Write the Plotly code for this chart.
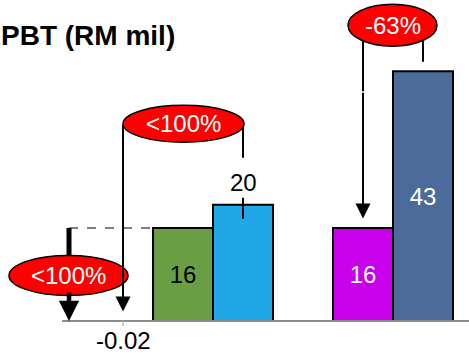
import plotly.graph_objects as go

# PBT (RM mil) per period: first group of three quarters, second group of two
group_a_values = [-0.02, 16, 20]
group_b_values = [16, 43]
change_labels = ["<100%", "<100%", "-63%"]
chart_title = "PBT (RM mil)"

bar_colors = ["#FFFFFF", "#6A9E44", "#1FA7E8", "#C800EC", "#4C6B9B"]
label_colors = ["black", "black", "black", "white", "white"]

values = group_a_values + group_b_values
# one empty slot separates the two groups
slots = list(range(len(group_a_values))) + [
    len(group_a_values) + 1 + i for i in range(len(group_b_values))
]

W, H = 469, 354
X_RANGE = [-2.05, 5.7667]
Y_RANGE = [-5.68, 55.25]
PX_X = W / (X_RANGE[1] - X_RANGE[0])
PX_Y = H / (Y_RANGE[1] - Y_RANGE[0])


def dx(px):
    return px / PX_X


def dy(px):
    return px / PX_Y


FONT = "Arial, 'Liberation Sans', sans-serif"
LINE = "black"
RED = "#FF0000"

inside = [abs(v) > 1 and i != 2 for i, v in enumerate(values)]
fig = go.Figure(
    go.Bar(
        x=slots,
        y=values,
        width=1.0,
        marker=dict(
            color=bar_colors,
            line=dict(color="black", width=[0 if abs(v) < 1 else 2 for v in values]),
        ),
        text=[f"{v:g}" for v in values],
        textposition=["inside" if f else "none" for f in inside],
        insidetextanchor="middle",
        textangle=0,
        insidetextfont=dict(family=FONT, size=24, color=label_colors),
        hoverinfo="skip",
    )
)

v_prev, v_green, v_blue, v_mag, v_dark = values
s_prev, s_green, s_blue, s_mag, s_dark = slots
gap = dy(9.5)  # arrow tips stop just above their target

shapes = []
annotations = []

# baseline and the single tick under the first bar
x_axis_start = s_prev - dx(61)
shapes.append(dict(type="line", xref="x", yref="y", x0=x_axis_start, x1=X_RANGE[1],
                   y0=0, y1=0, line=dict(color="#8C8C8C", width=2)))
shapes.append(dict(type="line", xref="x", yref="y", x0=s_prev, x1=s_prev,
                   y0=0, y1=-dy(5), line=dict(color="#BBBBBB", width=1.5)))

# left: dashed level of the earlier 16 and a bold drop arrow
x_drop = s_prev - dx(54)
shapes.append(dict(type="line", xref="x", yref="y", x0=x_drop, x1=s_green - 0.5,
                   y0=v_green, y1=v_green, line=dict(color="#555555", width=1.5, dash="dash")))
shapes.append(dict(type="line", xref="x", yref="y", x0=x_drop, x1=x_drop,
                   y0=v_green, y1=dy(30), line=dict(color=LINE, width=5)))
annotations.append(dict(x=x_drop, y=0, ax=x_drop, ay=dy(30), xref="x", yref="y",
                        axref="x", ayref="y", text="", showarrow=True, arrowhead=2,
                        arrowsize=0.9, arrowwidth=4.5, arrowcolor=LINE, standoff=0))

# middle: 20 -> -0.02
mid_cy = v_blue + dy(81)
shapes.append(dict(type="line", xref="x", yref="y", x0=s_blue, x1=s_blue,
                   y0=mid_cy, y1=v_blue + dy(47), line=dict(color=LINE, width=2)))
shapes.append(dict(type="line", xref="x", yref="y", x0=s_blue, x1=s_blue,
                   y0=v_blue + dy(7), y1=v_blue - dy(14), line=dict(color=LINE, width=2)))
annotations.append(dict(x=s_prev, y=max(v_prev, 0) + gap, ax=s_prev, ay=mid_cy,
                        xref="x", yref="y", axref="x", ayref="y", text="",
                        showarrow=True, arrowhead=2, arrowsize=1.5, arrowwidth=2,
                        arrowcolor=LINE, standoff=0))

# right: 43 -> 16
right_cy = v_dark + dy(46)
shapes.append(dict(type="line", xref="x", yref="y", x0=s_dark, x1=s_dark,
                   y0=right_cy, y1=v_dark + gap, line=dict(color=LINE, width=2)))
shapes.append(dict(type="line", xref="x", yref="y", x0=s_mag, x1=s_mag,
                   y0=right_cy, y1=v_dark - dy(20), line=dict(color=LINE, width=2)))
annotations.append(dict(x=s_mag, y=v_mag + gap, ax=s_mag, ay=v_dark - dy(20),
                        xref="x", yref="y", axref="x", ayref="y", text="",
                        showarrow=True, arrowhead=2, arrowsize=1.5, arrowwidth=2,
                        arrowcolor=LINE, standoff=0))

# red ellipses carrying the change labels
ellipses = [
    (x_drop - dx(60), x_drop + dx(59), v_green / 2 + dy(-21), v_green / 2 + dy(19)),
    (s_prev, s_blue + dx(1), mid_cy - dy(18.5), mid_cy + dy(18.5)),
    (s_mag - dx(15), s_dark + dx(14), right_cy - dy(21), right_cy + dy(21)),
]
for (x0, x1, y0, y1), label in zip(ellipses, change_labels):
    shapes.append(dict(type="circle", xref="x", yref="y", x0=x0, x1=x1, y0=y0, y1=y1,
                       fillcolor=RED, line=dict(color="black", width=1.5)))
    annotations.append(dict(x=(x0 + x1) / 2, y=(y0 + y1) / 2, xref="x", yref="y",
                            text=label, showarrow=False,
                            font=dict(family=FONT, size=24, color="white")))

# value labels placed outside their bars
annotations.append(dict(x=s_blue, y=v_blue, xref="x", yref="y", text=f"{v_blue:g}",
                        showarrow=False, yanchor="bottom", yshift=7,
                        font=dict(family=FONT, size=24, color="black")))
annotations.append(dict(x=s_prev, y=min(v_prev, 0), xref="x", yref="y", text=f"{v_prev:g}",
                        showarrow=False, yanchor="top", yshift=-4,
                        font=dict(family=FONT, size=24, color="black")))

# title
annotations.append(dict(x=177 / W, y=1 - 35 / H, xref="paper", yref="paper",
                        xanchor="right", yanchor="middle", text=f"<b>{chart_title}</b>",
                        showarrow=False, font=dict(family=FONT, size=28, color="black")))

fig.update_layout(
    width=W, height=H,
    margin=dict(l=0, r=0, t=0, b=0),
    paper_bgcolor="white", plot_bgcolor="white",
    showlegend=False,
    xaxis=dict(range=X_RANGE, visible=False, fixedrange=True),
    yaxis=dict(range=Y_RANGE, visible=False, fixedrange=True),
    shapes=shapes,
    annotations=annotations,
)

fig.write_html("out.html")
